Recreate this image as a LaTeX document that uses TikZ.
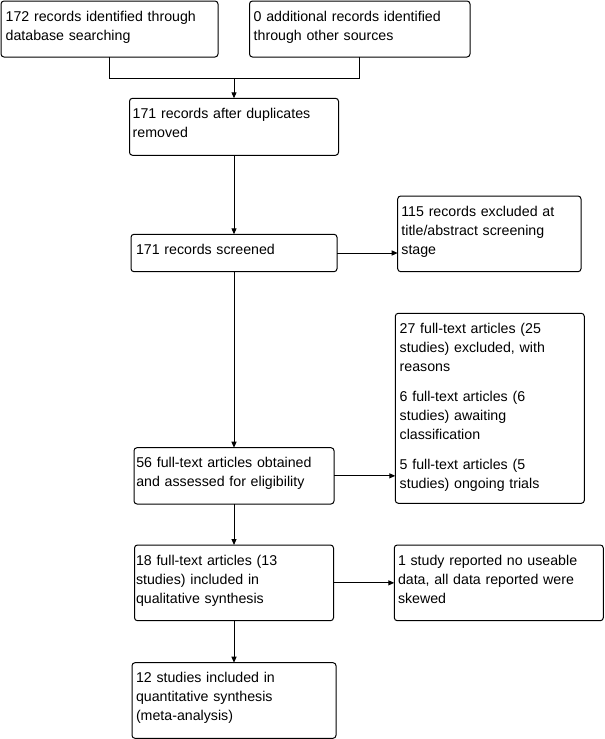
\documentclass[tikz,border=0pt]{standalone}
\usepackage{fontspec}
\setmainfont{Liberation Sans}
\usetikzlibrary{arrows.meta}
\begin{document}
\begin{tikzpicture}[x=1pt,y=-1pt,
  box/.style={draw=black, line width=1pt, rounded corners=3pt, anchor=north west, inner sep=0pt, outer sep=0pt},
  txt/.style={anchor=base west, inner sep=0pt, text width=260pt, align=left, font=\fontsize{14.2}{19}\selectfont},
  arr/.style={line width=1pt, -{Triangle[length=6pt,width=5pt]}},
  con/.style={line width=1pt}]
\useasboundingbox (0,0) rectangle (605,739);
\fill[white] (0,0) rectangle (605,739);
% boxes
\node[box, minimum width=217pt, minimum height=56pt] (A) at (1,1) {};
\node[box, minimum width=220.5pt, minimum height=56pt] (B) at (249.5,1) {};
\node[box, minimum width=209pt, minimum height=57pt] (C) at (129.5,98.3) {};
\node[box, minimum width=206pt, minimum height=37.4pt] (D) at (131,234.3) {};
\node[box, minimum width=183.3pt, minimum height=75.7pt] (E) at (397.7,196) {};
\node[box, minimum width=189pt, minimum height=190pt] (F) at (395.3,313.3) {};
\node[box, minimum width=200pt, minimum height=56.3pt] (G) at (134,447.7) {};
\node[box, minimum width=199pt, minimum height=75.7pt] (H) at (134.5,545) {};
\node[box, minimum width=209pt, minimum height=75.7pt] (I) at (394.3,545) {};
\node[box, minimum width=204pt, minimum height=75.6pt] (J) at (132,662.7) {};
% texts
\node[txt] (tA) at (5.5,21) {172 records identified through\\database searching};
\node[txt] (tB) at (253.5,21) {0 additional records identified\\through other sources};
\node[txt] (tC) at (132.5,118.3) {171 records after duplicates\\removed};
\node[txt] (tD) at (135.8,254.3) {171 records screened};
\node[txt] (tE) at (401.2,216) {115 records excluded at\\title/abstract screening\\stage};
\node[txt] (tF) at (399.5,333.3) {27 full-text articles (25\\studies) excluded, with\\reasons\\[11pt]6 full-text articles (6\\studies) awaiting\\classification\\[11pt]5 full-text articles (5\\studies) ongoing trials};
\node[txt] (tG) at (136.1,467.7) {56 full-text articles obtained\\and assessed for eligibility};
\node[txt] (tH) at (135.8,565) {18 full-text articles (13\\studies) included in\\qualitative synthesis};
\node[txt] (tI) at (397.8,565) {1 study reported no useable\\data, all data reported were\\skewed};
\node[txt] (tJ) at (135.8,682.7) {12 studies included in\\quantitative synthesis\\(meta-analysis)};
% connectors
\coordinate (m) at (234,78.3);
\draw[con] (A.south) |- (m) -| (B.south);
\draw[arr] (m) -- (C.north);
\draw[arr] (C.south) -- (D.north);
\draw[arr] (D.east) -- (D.east -| E.west);
\draw[arr] (D.south) -- (G.north);
\draw[arr] (G.east) -- (G.east -| F.west);
\draw[arr] (G.south) -- (H.north);
\draw[arr] (H.east) -- (H.east -| I.west);
\draw[arr] (H.south) -- (J.north);
\end{tikzpicture}
\end{document}
